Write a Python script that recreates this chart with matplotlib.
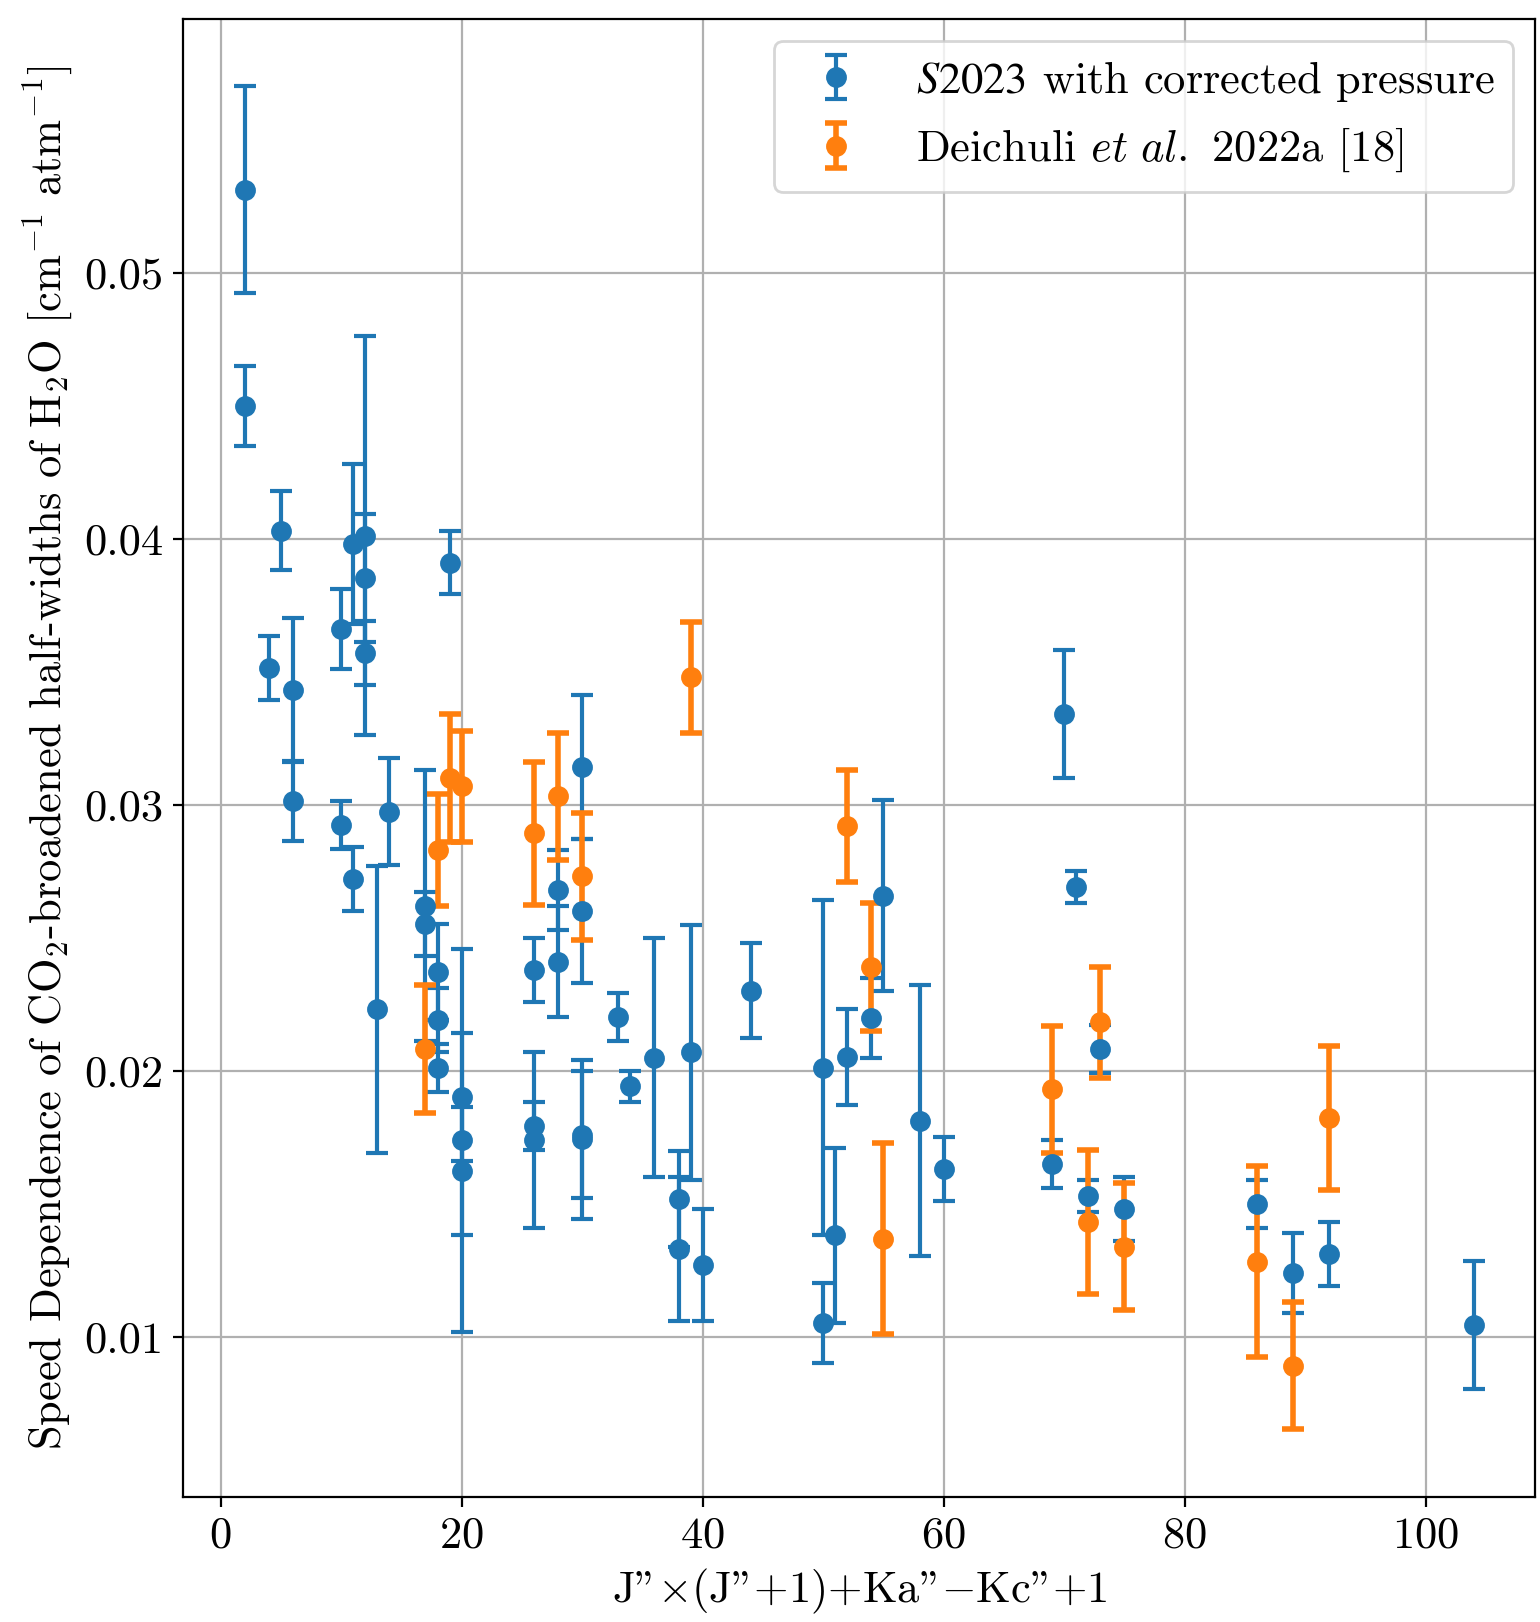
import matplotlib
matplotlib.use("Agg")
import matplotlib.pyplot as plt
import numpy as np

# S2023 with corrected pressure
s2023_x = [2, 2, 5, 4, 6, 6, 10, 10, 11, 11, 12, 12, 12, 13, 14, 17, 17,
           18, 18, 18, 19, 20, 20, 20, 26, 26, 26, 28, 28, 30, 30, 30, 30,
           33, 34, 36, 38, 38, 39, 40, 44, 50, 50, 51, 52, 54, 55, 58, 60,
           69, 70, 71, 72, 73, 75, 86, 89, 92, 104]
s2023_y = [0.05315, 0.04502, 0.04032, 0.03515, 0.03433, 0.03014, 0.03663,
           0.02924, 0.03982, 0.02722, 0.04013, 0.03853, 0.03573, 0.02232,
           0.02975, 0.02621, 0.02551, 0.02372, 0.02191, 0.02011, 0.03912,
           0.01902, 0.01739, 0.01622, 0.02380, 0.01791, 0.01739, 0.02681,
           0.02411, 0.03142, 0.02602, 0.01760, 0.01742, 0.02201, 0.01941,
           0.02050, 0.01519, 0.01330, 0.02069, 0.01269, 0.02302, 0.02011,
           0.01051, 0.01381, 0.02051, 0.02199, 0.02659, 0.01812, 0.01630,
           0.01650, 0.03342, 0.02692, 0.01530, 0.02082, 0.01480, 0.01499,
           0.01240, 0.01311, 0.01043]
s2023_err = [0.0039, 0.0015, 0.0015, 0.0012, 0.0027, 0.0015, 0.0015, 0.0009,
             0.0030, 0.0012, 0.0075, 0.0024, 0.0012, 0.0054, 0.0020, 0.0051,
             0.0012, 0.0018, 0.0012, 0.0009, 0.0012, 0.0024, 0.0072, 0.0024,
             0.0012, 0.0009, 0.0033, 0.0015, 0.0021, 0.0027, 0.0027, 0.0024,
             0.0030, 0.0009, 0.0006, 0.0045, 0.0018, 0.0027, 0.0048, 0.0021,
             0.0018, 0.0063, 0.0015, 0.0033, 0.0018, 0.0015, 0.0036, 0.0051,
             0.0012, 0.0009, 0.0024, 0.0006, 0.0006, 0.0009, 0.0012, 0.0009,
             0.0015, 0.0012, 0.0024]

# Deichuli et al. 2022a [18]
deich_x = [17, 18, 19, 20, 26, 28, 30, 39, 52, 54, 55, 69, 72, 73, 75, 86, 89, 92]
deich_y = [0.02081, 0.02831, 0.03101, 0.03070, 0.02893, 0.03032, 0.02731,
           0.03480, 0.02921, 0.02390, 0.01369, 0.01930, 0.01432, 0.02182,
           0.01339, 0.01282, 0.00891, 0.01823]
deich_err = [0.0024, 0.0021, 0.0024, 0.0021, 0.0027, 0.0024, 0.0024, 0.0021,
             0.0021, 0.0024, 0.0036, 0.0024, 0.0027, 0.0021, 0.0024, 0.0036,
             0.0024, 0.0027]

plt.rcParams.update({
    "font.family": "serif",
    "font.serif": ["cmr10"],
    "mathtext.fontset": "cm",
    "axes.formatter.use_mathtext": True,
    "font.size": 16,
})

fig = plt.figure(figsize=(7.7, 8.11), dpi=200)
ax = fig.add_axes([0.119, 0.0773, 0.878, 0.9112])

ax.errorbar(s2023_x, s2023_y, yerr=s2023_err, fmt="o", color="#1f77b4",
            capsize=4, markersize=6.5, elinewidth=1.5, capthick=1.5,
            label=r"$\mathit{S2023}$ with corrected pressure")
ax.errorbar(deich_x, deich_y, yerr=deich_err, fmt="o", color="#ff7f0e",
            capsize=4, markersize=6.5, elinewidth=2, capthick=2,
            label=r"Deichuli $\mathit{et\ al.}$ 2022a [18]")

ax.grid(True)
ax.set_xlabel(r'J"$\times$(J"+1)+Ka"$-$Kc"+1')
ax.set_ylabel(r"Speed Dependence of CO$_2$-broadened half-widths of H$_2$O [cm$^{-1}$ atm$^{-1}$]")
ax.set_yticks([0.01, 0.02, 0.03, 0.04, 0.05])
ax.set_yticklabels(["0.01", "0.02", "0.03", "0.04", "0.05"])
leg = ax.legend(loc="upper right")
# italic digits for the S2023 tag (cm math italic has no italic numerals)
leg.get_texts()[0].set_math_fontfamily("stix")

fig.savefig("out.png", dpi=200)
